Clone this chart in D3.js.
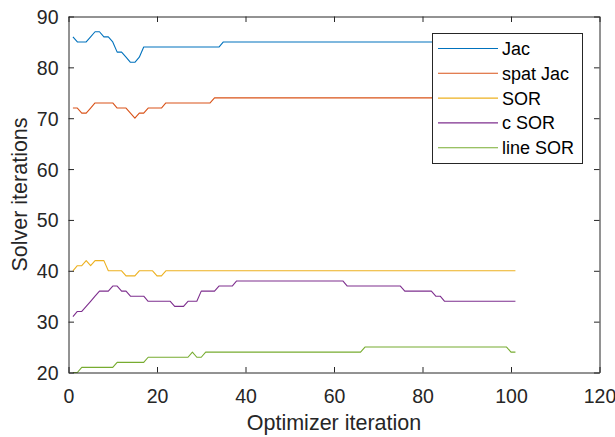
<!DOCTYPE html>
<html>
<head>
<meta charset="utf-8">
<script src="https://cdn.jsdelivr.net/npm/d3@7"></script>
<style>
  html, body { margin: 0; padding: 0; background: #fff; }
  svg { display: block; font-family: "Liberation Sans", Arial, Helvetica, sans-serif; }
</style>
</head>
<body>
<svg id="chart" width="615" height="437"></svg>
<script>
// ---- data ----
const seriesNames = ["Jac", "spat Jac", "SOR", "c SOR", "line SOR"];
const seriesColors = ["#0072BD", "#D95319", "#EDB120", "#7E2F8E", "#77AC30"];
const xTicks = [0, 20, 40, 60, 80, 100, 120];
const yTicks = [20, 30, 40, 50, 60, 70, 80, 90];

const jac = [
  86,85,85,85,86,87,87,86,86,85,
  83,83,82,81,81,82,84,84,84,84,
  84,84,84,84,84,84,84,84,84,84,
  84,84,84,84,85,85,85,85,85,85,
  85,85,85,85,85,85,85,85,85,85,
  85,85,85,85,85,85,85,85,85,85,
  85,85,85,85,85,85,85,85,85,85,
  85,85,85,85,85,85,85,85,85,85,
  85,85,85,85,85,85,85,85,85,85,
  85,85,85,85,85,85,85,85,85,85,
  85
];
const spatJac = [
  72,72,71,71,72,73,73,73,73,73,
  72,72,72,71,70,71,71,72,72,72,
  72,73,73,73,73,73,73,73,73,73,
  73,73,74,74,74,74,74,74,74,74,
  74,74,74,74,74,74,74,74,74,74,
  74,74,74,74,74,74,74,74,74,74,
  74,74,74,74,74,74,74,74,74,74,
  74,74,74,74,74,74,74,74,74,74,
  74,74,74,74,74,74,74,74,74,74,
  74,74,74,74,74,74,74,74,74,74,
  74
];
const sor = [
  40,41,41,42,41,42,42,42,40,40,
  40,40,39,39,39,40,40,40,40,39,
  39,40,40,40,40,40,40,40,40,40,
  40,40,40,40,40,40,40,40,40,40,
  40,40,40,40,40,40,40,40,40,40,
  40,40,40,40,40,40,40,40,40,40,
  40,40,40,40,40,40,40,40,40,40,
  40,40,40,40,40,40,40,40,40,40,
  40,40,40,40,40,40,40,40,40,40,
  40,40,40,40,40,40,40,40,40,40,
  40
];
const cSor = [
  31,32,32,33,34,35,36,36,36,37,
  37,36,36,35,35,35,35,34,34,34,
  34,34,34,33,33,33,34,34,34,36,
  36,36,36,37,37,37,37,38,38,38,
  38,38,38,38,38,38,38,38,38,38,
  38,38,38,38,38,38,38,38,38,38,
  38,38,37,37,37,37,37,37,37,37,
  37,37,37,37,37,36,36,36,36,36,
  36,36,35,35,34,34,34,34,34,34,
  34,34,34,34,34,34,34,34,34,34,
  34
];
const lineSor = [
  20,20,21,21,21,21,21,21,21,21,
  22,22,22,22,22,22,22,23,23,23,
  23,23,23,23,23,23,23,24,23,23,
  24,24,24,24,24,24,24,24,24,24,
  24,24,24,24,24,24,24,24,24,24,
  24,24,24,24,24,24,24,24,24,24,
  24,24,24,24,24,24,25,25,25,25,
  25,25,25,25,25,25,25,25,25,25,
  25,25,25,25,25,25,25,25,25,25,
  25,25,25,25,25,25,25,25,25,24,
  24
];
const seriesValues = [jac, spatJac, sor, cSor, lineSor];
const iterations = jac.map((_, i) => i + 1);

// ---- layout ----
const L = 68.5, R = 599.5, T = 16.5, B = 372.5;
const axisColor = "#262626";
const tickLen = 5.5;

const svg = d3.select("#chart");
const x = d3.scaleLinear().domain([0, 120]).range([L, R]);
const y = d3.scaleLinear().domain([20, 90]).range([B, T]);

// lines
const lineGen = d3.line().x((d, i) => x(iterations[i])).y(d => y(d));
seriesValues.forEach((vals, k) => {
  svg.append("path")
    .datum(vals)
    .attr("fill", "none")
    .attr("stroke", seriesColors[k])
    .attr("stroke-width", 1.1)
    .attr("stroke-linejoin", "round")
    .attr("d", lineGen);
});

// axes (MATLAB style: inward ticks, box)
const tickFont = 19.5;
const xAxisB = d3.axisBottom(x).tickValues(xTicks).tickSizeInner(-tickLen).tickSizeOuter(0).tickPadding(12);
const xAxisT = d3.axisTop(x).tickValues(xTicks).tickSizeInner(-tickLen).tickSizeOuter(0).tickFormat("");
const yAxisL = d3.axisLeft(y).tickValues(yTicks).tickSizeInner(-tickLen).tickSizeOuter(0).tickPadding(14);
const yAxisR = d3.axisRight(y).tickValues(yTicks).tickSizeInner(-tickLen).tickSizeOuter(0).tickFormat("");

function style(g) {
  g.select(".domain").attr("stroke", axisColor).attr("stroke-width", 1);
  g.selectAll(".tick line").attr("stroke", axisColor).attr("stroke-width", 1);
  g.selectAll(".tick text").attr("fill", "#262626").style("font-size", tickFont + "px")
   .style("font-family", "'Liberation Sans', Arial, Helvetica, sans-serif");
}
svg.append("g").attr("transform", `translate(0,${B})`).call(xAxisB).call(style)
   .selectAll(".tick text").attr("dy", "0.71em").attr("y", 17);
svg.append("g").attr("transform", `translate(0,${T})`).call(xAxisT).call(style);
svg.append("g").attr("transform", `translate(${L},0)`).call(yAxisL).call(style)
   .selectAll(".tick text").attr("x", -10).attr("dy", "0.36em");
svg.append("g").attr("transform", `translate(${R},0)`).call(yAxisR).call(style);

// axis labels
svg.append("text")
  .attr("x", (L + R) / 2).attr("y", 430)
  .attr("text-anchor", "middle")
  .attr("fill", "#262626")
  .style("font-size", "21.5px")
  .text("Optimizer iteration");
svg.append("text")
  .attr("transform", `translate(27,${(T + B) / 2}) rotate(-90)`)
  .attr("text-anchor", "middle")
  .attr("fill", "#262626")
  .style("font-size", "21.5px")
  .text("Solver iterations");

// legend
const lg = svg.append("g");
lg.append("rect")
  .attr("x", 432.5).attr("y", 33.5)
  .attr("width", 150).attr("height", 130)
  .attr("fill", "#fff").attr("stroke", axisColor).attr("stroke-width", 1);
seriesNames.forEach((name, k) => {
  const cy = 48.5 + k * 24.8;
  lg.append("line")
    .attr("x1", 438).attr("x2", 498)
    .attr("y1", cy).attr("y2", cy)
    .attr("stroke", seriesColors[k]).attr("stroke-width", 1.1);
  lg.append("text")
    .attr("x", 502).attr("y", cy).attr("dy", "0.36em")
    .attr("fill", "#000")
    .style("font-size", "18px")
    .text(name);
});
</script>
</body>
</html>
